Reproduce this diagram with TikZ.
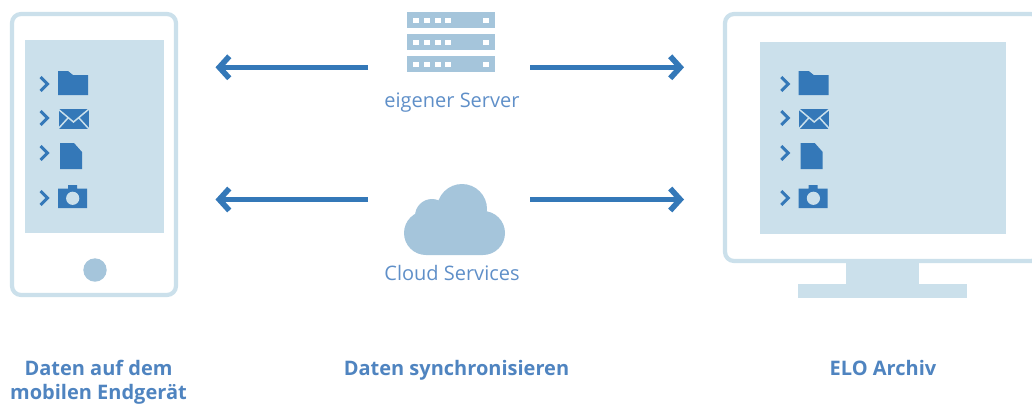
\documentclass[tikz,border=0pt]{standalone}
\usepackage{fontspec}
\setmainfont{Open Sans}
\usetikzlibrary{arrows.meta}
\definecolor{pale}{HTML}{CBE0EB}
\definecolor{mid}{HTML}{A5C5DB}
\definecolor{deep}{HTML}{3478B8}
\definecolor{txt}{HTML}{5F8FC8}
\definecolor{boldtxt}{HTML}{4F84C0}
\tikzset{
  x=1pt,y=-1pt,
  frame/.style={draw=pale,line width=4.2pt,fill=white,rounded corners=9pt},
  screenbox/.style={fill=pale},
  flow/.style={draw=deep,line width=5.6pt,-{Straight Barb[length=10pt,width=22pt,line width=5.6pt]}},
  caption/.style={font=\fontsize{20}{24}\selectfont\color{txt},inner sep=0pt,anchor=base},
  title/.style={font=\fontsize{20}{24}\bfseries\selectfont\color{boldtxt},inner sep=0pt,align=center,anchor=base},
  titletop/.style={title,anchor=north},
  chev/.style={draw=deep,line width=3pt},
  iconsets/.pic={
    \foreach \cy in {84,118,153,198}{
      \draw[chev] (40.6,\cy-7) -- (47.6,\cy) -- (40.6,\cy+7);
    }
    \fill[deep] (58,71) -- (68,71) -- (73,75) -- (88,75) -- (88,95) -- (58,95) -- cycle;
    \fill[deep] (58.5,109) rectangle (88.5,129);
    \draw[pale,line width=1.5pt] (58,109) -- (73.5,122) -- (89,109) (58,129) -- (68,118) (89,129) -- (79,118);
    \fill[deep] (60,143) -- (74,143) -- (82,152) -- (82,169) -- (60,169) -- cycle;
    \fill[deep] (58,188.5) -- (68,188.5) -- (68,185) -- (77,185) -- (77,188.5) -- (87,188.5) -- (87,208) -- (58,208) -- cycle;
    \fill[pale] (72.7,198.3) circle[radius=6.6];
  }
}
\begin{document}
\begin{tikzpicture}
\useasboundingbox (0,0) rectangle (1032,405);
\clip (0,0) rectangle (1032,405);
% phone
\draw[frame] (12,14) rectangle (176,295);
\fill[screenbox] (25,40) rectangle (163.5,233);
\fill[mid] (95,270) circle[radius=11.7];
\pic at (0,0) {iconsets};
% monitor
\fill[pale] (846,262) rectangle (919,285);
\fill[pale] (798,284) rectangle (967,298);
\draw[frame] (725,14) rectangle (1040,261);
\fill[screenbox] (760,42) rectangle (1006,233.5);
\pic at (740.7,0) {iconsets};
% server
\foreach \ry in {12,34,56}{
  \fill[mid] (407,\ry) rectangle (494.5,\ry+16);
  \foreach \sx in {413,424,434.5,445,483}{
    \fill[white] (\sx,\ry+5.5) rectangle (\sx+6,\ry+11);
  }
}
% cloud
\fill[mid] (426,255) -- (483,255)
  arc[start angle=90,end angle=-90,radius=22] -- (426,211)
  arc[start angle=-90,end angle=-270,radius=22] -- cycle;
\fill[mid] (462,209) circle[radius=25];
\fill[mid] (432,216) circle[radius=17];
% labels
\node[caption] (serverlabel) at (452,107) {eigener Server};
\node[caption] (cloudlabel) at (452,280) {Cloud Services};
\node[titletop] (t1) at (98.5,360) {Daten auf dem\\mobilen Endgerät};
\node[title] (t2) at (456.5,375) {Daten synchronisieren};
\node[title] (t3) at (883,375) {ELO Archiv};
% connectors
\coordinate (sl) at (368,67.3);   \coordinate (pa) at (215.5,67.3);
\coordinate (sr) at (530,67.3);   \coordinate (ma) at (684,67.3);
\coordinate (cl) at (368,199.5); \coordinate (pb) at (215.5,199.5);
\coordinate (cr) at (530,199.5); \coordinate (mb) at (684,199.5);
\draw[flow] (sl) -- (pa);
\draw[flow] (sr) -- (ma);
\draw[flow] (cl) -- (pb);
\draw[flow] (cr) -- (mb);
\end{tikzpicture}
\end{document}
